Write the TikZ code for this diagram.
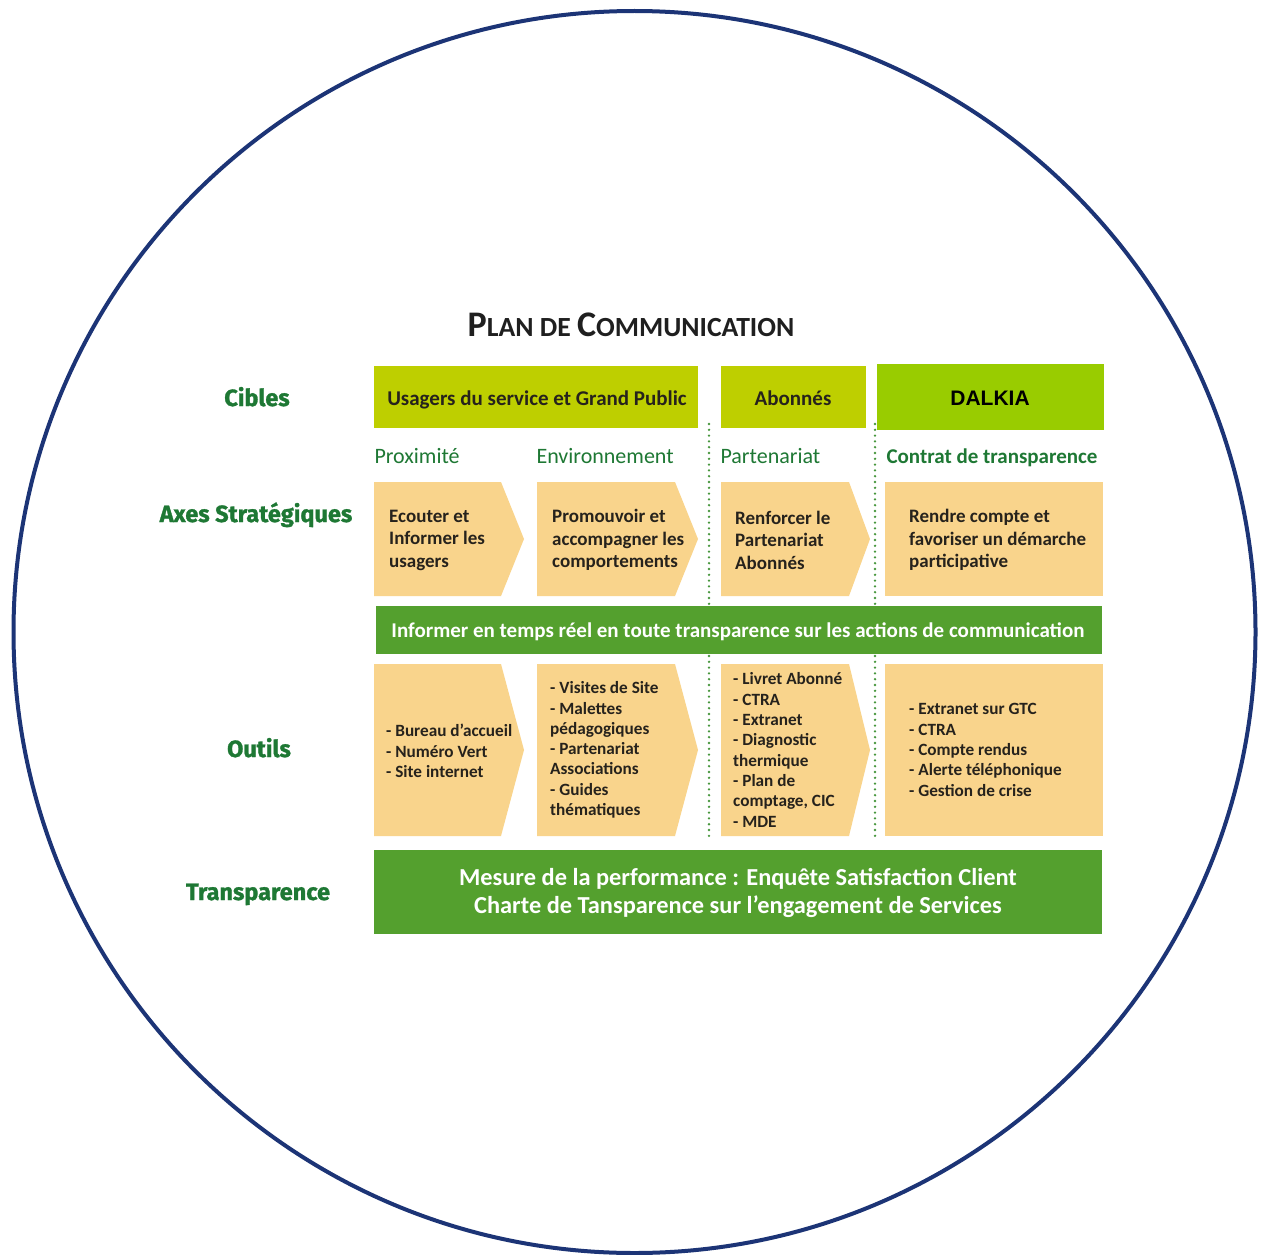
\documentclass[tikz,border=0pt]{standalone}
\usepackage{fontspec}
\setmainfont{Carlito}
\newfontfamily\arialf{Liberation Sans}
\newfontfamily\heavyf{Fira Sans}[BoldFeatures={FakeBold=1.2}]
\definecolor{circblue}{RGB}{28,52,118}
\definecolor{cible}{RGB}{190,207,0}
\definecolor{dalkia}{RGB}{153,204,0}
\definecolor{orangebox}{RGB}{249,212,140}
\definecolor{band}{RGB}{84,160,46}
\definecolor{dkgreen}{RGB}{30,120,52}
\definecolor{dotgreen}{RGB}{70,150,60}
\definecolor{txt}{RGB}{38,34,28}
\tikzset{
  cibletxt/.style={text=txt,anchor=base,font=\bfseries\fontsize{21}{24}\selectfont},
  axelbl/.style={text=dkgreen,anchor=base west,font=\fontsize{22}{24}\selectfont},
  boxtxt/.style={text=txt,anchor=west,align=left,inner sep=0,font=\bfseries\fontsize{19}{22.5}\selectfont},
  tooltxt/.style={text=txt,anchor=west,align=left,inner sep=0,font=\bfseries\fontsize{17.2}{20.3}\selectfont},
  rowlbl/.style={text=dkgreen,anchor=base,font=\heavyf\bfseries\fontsize{23.5}{26}\selectfont},
  bandtxt/.style={text=white,align=center,font=\bfseries\fontsize{21}{24}\selectfont},
  dotline/.style={draw=dotgreen,line width=2.6pt,line cap=round,dash pattern=on 0pt off 5.8pt},
}
\newcommand{\arrbox}[6]{\fill[orangebox] (#1,#2) -- (#3,#2) -- (#4,#6) -- (#3,#5) -- (#1,#5) -- cycle;}
\begin{document}
\begin{tikzpicture}[x=1pt,y=-1pt]
\useasboundingbox (0,0) rectangle (1261,1255);
\fill[white] (0,0) rectangle (1261,1255);
\draw[circblue,line width=4pt] (634.5,632) circle[radius=621pt];

% title
\node[text=black!88] (title) at (631,325) {\bfseries\fontsize{36}{38}\selectfont P\fontsize{27.7}{30}\selectfont LAN DE \fontsize{36}{38}\selectfont C\fontsize{27.7}{30}\selectfont OMMUNICATION};

% row labels
\node[rowlbl] (lcibles) at (257,406) {Cibles};
\node[rowlbl] (laxes) at (256,522) {Axes Stratégiques};
\node[rowlbl] (loutils) at (259,757) {Outils};
\node[rowlbl] (ltransp) at (258,900) {Transparence};

% dotted separators
\coordinate (d1a) at (709,424); \coordinate (d1b) at (709,840);
\coordinate (d2a) at (875,424); \coordinate (d2b) at (875,840);
\draw[dotline] (d1a) -- (d1b);
\draw[dotline] (d2a) -- (d2b);

% cibles
\fill[cible] (374,366) rectangle (698,428);
\node[cibletxt] (c1) at (537,405) {Usagers du service et Grand Public};
\fill[cible] (721,366) rectangle (866,428);
\node[cibletxt] (c2) at (793,405) {Abonnés};
\fill[dalkia] (877,364) rectangle (1104,430);
\node[font=\arialf\bfseries\fontsize{21}{24}\selectfont,text=black] (c3) at (990,398) {DALKIA};

% axes labels
\node[axelbl] (a1) at (371,463) {Proximité};
\node[axelbl] (a2) at (533,463) {Environnement};
\node[axelbl] (a3) at (717,463) {Partenariat};
\node[axelbl,font=\bfseries\fontsize{21}{24}\selectfont] (a4) at (883,463) {Contrat de transparence};

% axes boxes
\arrbox{374}{482}{501}{524}{596}{539}
\arrbox{537}{482}{675}{698}{596}{539}
\arrbox{721}{482}{849}{870}{596}{539}
\fill[orangebox] (885,482) rectangle (1103,596);
\node[boxtxt] (s1) at (389,540) {Ecouter et\\Informer les\\usagers};
\node[boxtxt] (s2) at (552,540) {Promouvoir et\\accompagner les\\comportements};
\node[boxtxt] (s3) at (735,540) {Renforcer le\\Partenariat\\Abonnés};
\node[boxtxt] (s4) at (909,540) {Rendre compte et\\favoriser un démarche\\participative};

% band
\fill[band] (376,606) rectangle (1102,654);
\node[bandtxt,anchor=base] (b1) at (738,637) {Informer en temps réel en toute transparence sur les actions de communication};

% outils boxes
\arrbox{374}{664}{501}{524}{836}{750}
\arrbox{537}{664}{675}{698}{836}{750}
\arrbox{721}{664}{849}{870}{836}{750}
\fill[orangebox] (885,664) rectangle (1103,836);
\node[tooltxt] (o1) at (386,751) {- Bureau d'accueil\\- Numéro Vert\\- Site internet};
\node[tooltxt] (o2) at (550,750) {- Visites de Site\\- Malettes\\pédagogiques\\- Partenariat\\Associations\\- Guides\\thématiques};
\node[tooltxt] (o3) at (733,750) {- Livret Abonné\\- CTRA\\- Extranet\\- Diagnostic\\thermique\\- Plan de\\comptage, CIC\\- MDE};
\node[tooltxt] (o4) at (909,750) {- Extranet sur GTC\\- CTRA\\- Compte rendus\\- Alerte téléphonique\\- Gestion de crise};

% transparence band
\fill[band] (374,850) rectangle (1102,934);
\node[bandtxt,font=\bfseries\fontsize{24.4}{28}\selectfont] (t1) at (738,893) {Mesure de la performance : Enquête Satisfaction Client\\Charte de Tansparence sur l’engagement de Services};
\end{tikzpicture}
\end{document}
